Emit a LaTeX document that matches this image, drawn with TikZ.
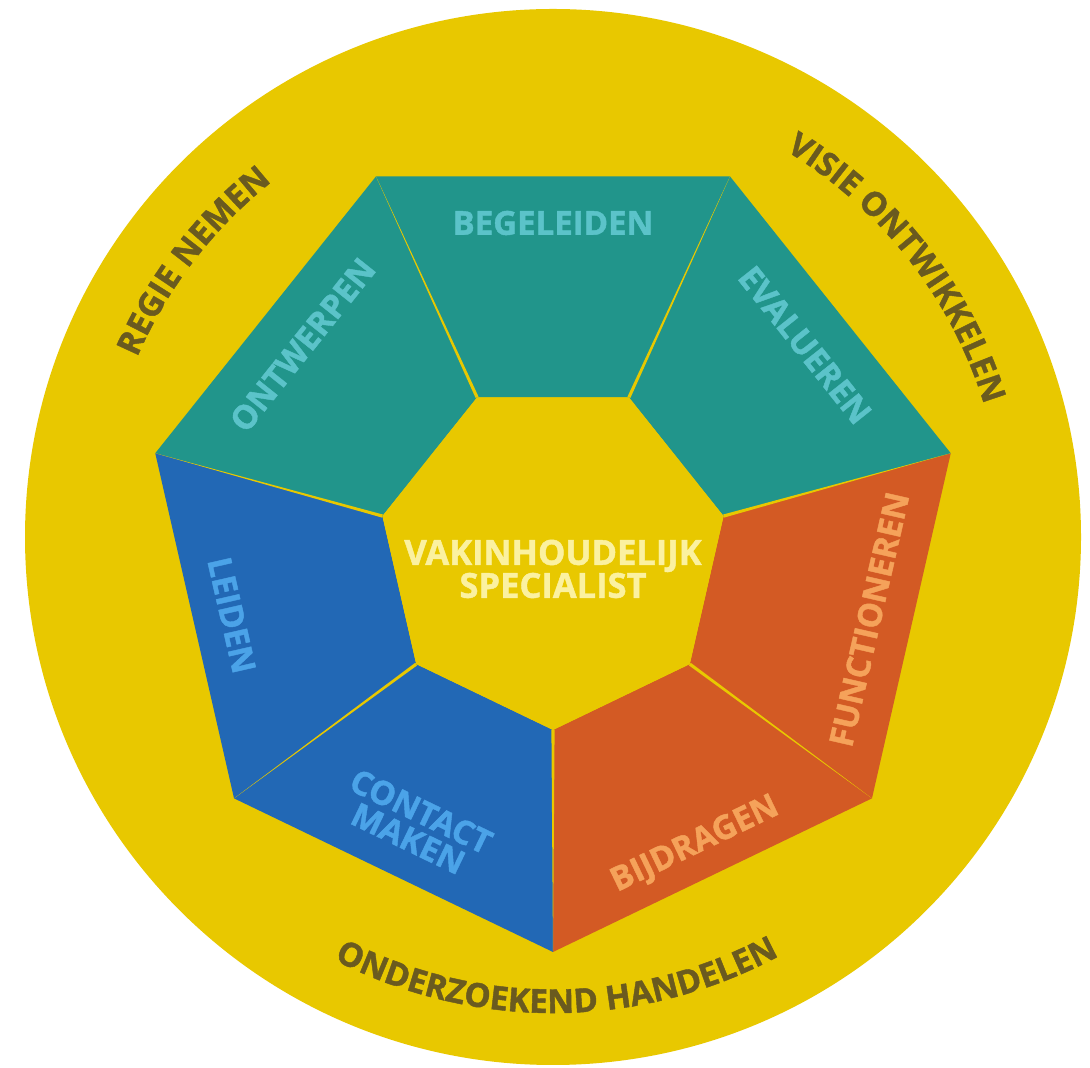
\documentclass[tikz,border=0pt]{standalone}
\usepackage{fontspec}
\setmainfont{Open Sans}[BoldFeatures={FakeBold=1.3}]
\usetikzlibrary{calc,decorations.text}
\definecolor{cyel}{HTML}{E8C800}
\definecolor{cteal}{HTML}{21958B}
\definecolor{cblue}{HTML}{2268B5}
\definecolor{corange}{HTML}{D35A24}
\definecolor{tteal}{HTML}{5BC3C9}
\definecolor{tblue}{HTML}{4BA3E8}
\definecolor{torange}{HTML}{F5A25A}
\definecolor{touter}{HTML}{6A5A1F}
\definecolor{tcenter}{HTML}{FBF1A0}
\newcommand\myoutfont{\bfseries\fontsize{33}{33}\selectfont}
\begin{document}
\begin{tikzpicture}[x=1pt,y=1pt,
  lab/.style={font=\bfseries\fontsize{33}{30}\selectfont, inner sep=0pt, align=center},
  ringtext/.style={decorate, decoration={text along path, text align=center, text color=touter, text={|\myoutfont|#1}}}]
\useasboundingbox (0,0) rectangle (1090,1068);
\fill[white] (0,0) rectangle (1090,1068);
\coordinate (C) at (553,531);
\coordinate (O) at (553,524);
\coordinate (I) at (553,513);
\fill[cyel] (C) circle[radius=528pt];
\foreach \k in {0,...,6}{
  \coordinate (A\k) at ($(O)+({-90+\k*360/7}:408pt)$);
  \coordinate (B\k) at ($(I)+({-90+\k*360/7}:175pt)$);
}
\foreach \k/\c in {0/corange,1/corange,2/cteal,3/cteal,4/cteal,5/cblue,6/cblue}{
  \pgfmathtruncatemacro\n{mod(\k+1,7)}
  \fill[\c] (A\k) -- (A\n) -- (B\n) -- (B\k) -- cycle;
}
\fill[cyel] (B0) -- (B1) -- (B2) -- (B3) -- (B4) -- (B5) -- (B6) -- cycle;
\foreach \k in {0,...,6}{
  \fill[cyel] ($(B\k)!1.6pt!90:(A\k)$) -- (A\k) -- ($(B\k)!1.6pt!-90:(A\k)$) -- cycle;
}
% segment labels
\node[lab, text=tteal, rotate=0] (begeleiden) at ($(O)+(90:321pt)$) {BEGELEIDEN};
\node[lab, text=tteal, rotate=51.43] (ontwerpen) at ($(O)+(141.5:320pt)$) {ONTWERPEN};
\node[lab, text=tteal, rotate=-51.43] (evalueren) at ($(O)+(38.3:321pt)$) {EVALUEREN};
\node[lab, text=torange, rotate=77.14] (functioneren) at ($(O)+(-13.4:325pt)$) {FUNCTIONEREN};
\node[lab, text=torange, rotate=25.71] (bijdragen) at ($(O)+(-64.7:333pt)$) {BIJDRAGEN};
\node[lab, text=tblue, rotate=-25.71] (contact) at ($(O)+(-116.2:313pt)$) {CONTACT\\MAKEN};
\node[lab, text=tblue, rotate=-77.14] (leiden) at ($(O)+(192.5:329pt)$) {LEIDEN};
% center
\node[lab, text=tcenter, font=\bfseries\fontsize{34.5}{33}\selectfont] (center) at (553,499) {VAKINHOUDELIJK\\SPECIALIST};
% ring texts
\path[ringtext={REGIE NEMEN}] ($(C)+(182.5:453pt)$) arc[start angle=182.5, end angle=102.5, radius=453pt];
\path[ringtext={VISIE ONTWIKKELEN}] ($(C)+(88:451pt)$) arc[start angle=88, end angle=-12, radius=451pt];
\path[ringtext={ONDERZOEKEND HANDELEN}] ($(C)+(-140:476pt)$) arc[start angle=-140, end angle=-39, radius=476pt];
\end{tikzpicture}
\end{document}
